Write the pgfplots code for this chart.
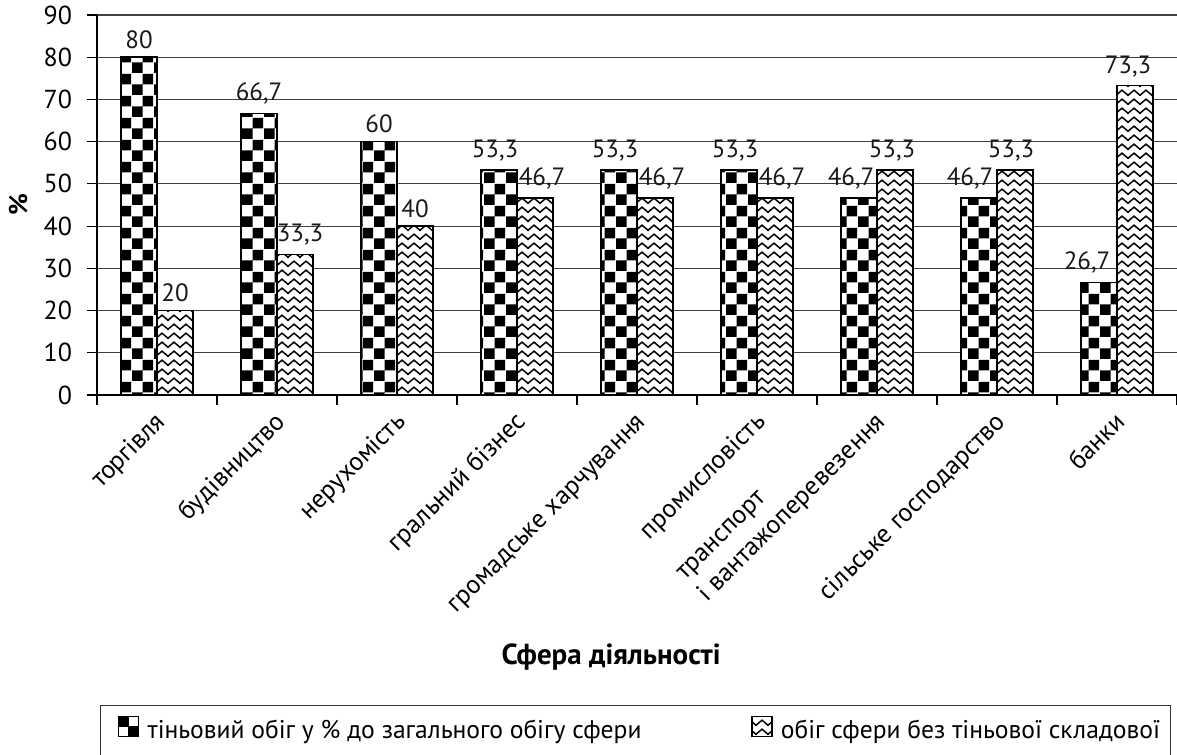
\documentclass[border=0pt]{standalone}
\usepackage{fontspec}
\setmainfont{PT Sans}
\usepackage{pgfplots}
\usepackage{pgfplotstable}
\pgfplotsset{compat=1.18}
\usetikzlibrary{patterns}

% chess cells and zigzag rows, sized as in the scan
\pgfdeclarepatternformonly{chess}{\pgfpointorigin}{\pgfqpoint{11pt}{11pt}}{\pgfqpoint{11pt}{11pt}}{%
  \pgfpathrectangle{\pgfpointorigin}{\pgfqpoint{5.55pt}{5.55pt}}%
  \pgfpathrectangle{\pgfqpoint{5.5pt}{5.5pt}}{\pgfqpoint{5.55pt}{5.55pt}}%
  \pgfusepath{fill}}
\pgfdeclarepatternformonly{zigzag}{\pgfqpoint{-0.5pt}{-0.5pt}}{\pgfqpoint{6.5pt}{5pt}}{\pgfqpoint{6pt}{4.5pt}}{%
  \pgfsetlinewidth{0.75pt}\pgfsetrectcap
  \pgfpathmoveto{\pgfqpoint{0pt}{0.9pt}}%
  \pgfpathlineto{\pgfqpoint{3pt}{3.4pt}}%
  \pgfpathlineto{\pgfqpoint{6pt}{0.9pt}}%
  \pgfusepath{stroke}}

\pgfplotstableread{
x y1 d1 y2 d2
0 80 0 20 0
1 66.7 0 33.3 2.5
2 60 0 40 0
3 53.3 -2 46.7 3.5
4 53.3 -2 46.7 3.5
5 53.3 -2 46.7 3.5
6 46.7 -4 53.3 -1.5
7 46.7 -4.5 53.3 -2
8 26.7 -6 73.3 -3.5
}\sfery

\begin{document}
\begin{tikzpicture}
\begin{axis}[name=ax,
  scale only axis, width=540pt, height=190pt,
  font=\fontsize{13}{15.6}\selectfont,
  /pgf/number format/assume math mode=true,
  /pgf/number format/use comma,
  ybar=0pt, bar width=18pt,
  xmin=-0.5, xmax=8.5, ymin=0, ymax=90,
  ytick={0,10,...,90},
  xtick={0,...,8},
  minor xtick={-0.5,0.5,...,8.5},
  major x tick style={draw=none},
  tick align=outside, major tick length=5pt, minor tick length=5pt,
  tick style={black, line width=0.6pt},
  axis x line*=bottom, axis y line*=left,
  axis line style={-, line width=0.75pt},
  ymajorgrids, grid style={black!75, line width=0.6pt},
  yticklabel style={xshift=-4pt},
  xticklabels={торгівля, будівництво, нерухомість, гральний бізнес, громадське харчування, промисловість,
    {\begin{tabular}[b]{@{}l@{}}транспорт\\і вантажоперевезення\end{tabular}}, сільське господарство, банки},
  xticklabel style={xshift=5pt, yshift=-9pt, rotate=45, anchor=base east, inner sep=0pt},
  xlabel={\bfseries Сфера діяльності},
  xlabel style={at={(axis description cs:0.476,-0.689)}, anchor=center, font=\fontsize{14.5}{17}\selectfont},
  ylabel={\bfseries \%},
  ylabel style={at={(axis description cs:-0.073,0.5)}, anchor=center, rotate=0},
  nodes near coords,
  nodes near coords style={/pgf/number format/.cd, fixed, precision=1, use comma, assume math mode=true, /tikz/.cd,
    black!90, font=\fontsize{12.5}{15}\selectfont, xshift=\dx pt, inner sep=4pt},
  legend style={at={(axis description cs:0.003,-0.816)}, anchor=north west,
    draw=black!80, line width=0.6pt, inner xsep=5pt, inner ysep=5pt,
    legend columns=2, font=\fontsize{12.8}{15}\selectfont, cells={anchor=west},
    /tikz/every even column/.append style={column sep=0pt}},
]
\addplot[draw=black, line width=0.75pt, preaction={fill=white}, pattern=chess,
  visualization depends on={\thisrow{d1} \as \dx},
  legend image code/.code={%
    \path (-3.5pt,0pt);
    \draw[line width=0.6pt, fill=white] (0pt,-3pt) rectangle (10pt,7pt);
    \fill[black] (0pt,2pt) rectangle (5pt,7pt);
    \fill[black] (5pt,-3pt) rectangle (10pt,2pt);}]
  table[x=x, y=y1] {\sfery};
\addplot[draw=black, line width=0.75pt, preaction={fill=white}, pattern=zigzag,
  visualization depends on={\thisrow{d2} \as \dx},
  legend image code/.code={%
    \draw[line width=0.6pt, preaction={fill=white}, pattern=zigzag] (0pt,-3pt) rectangle (10pt,7pt);}]
  table[x=x, y=y2] {\sfery};
\legend{\makebox[302pt][l]{\,тіньовий обіг у \% до загального обігу сфери},
  \makebox[190pt][l]{\,обіг сфери без тіньової складової}}
\end{axis}
\pgfresetboundingbox
\path ([shift={(-48.5pt,-179.5pt)}]ax.south west) rectangle ([shift={(0pt,7.5pt)}]ax.north east);
\end{tikzpicture}
\end{document}
